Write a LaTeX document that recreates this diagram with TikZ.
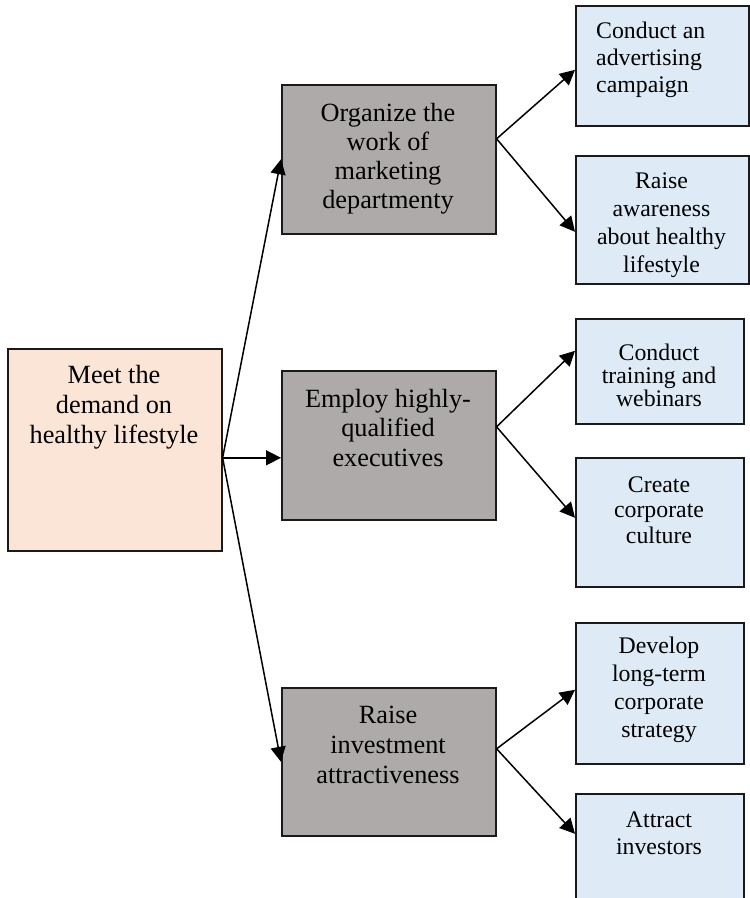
\documentclass[tikz,border=0pt]{standalone}
\usepackage{fontspec}
\setmainfont{Liberation Serif}
\usetikzlibrary{arrows.meta,calc}

\definecolor{goalfill}{HTML}{FBE5D6}
\definecolor{taskfill}{HTML}{AEAAAA}
\definecolor{stepfill}{HTML}{DEEBF7}
\definecolor{edgeink}{HTML}{1A1A1A}

% text block whose base anchor sits on the first line's baseline
\newcommand{\txtblock}[4]{{\fontsize{#1}{#2}\selectfont\begin{tabular}[t]{@{}#3@{}}#4\end{tabular}}}

\begin{document}
\begin{tikzpicture}[x=1pt,y=-1pt,
  boxbase/.style={rectangle,draw=edgeink,line width=1.6pt,inner sep=0pt,anchor=north west},
  goalbox/.style={boxbase,fill=goalfill},
  taskbox/.style={boxbase,fill=taskfill},
  stepbox/.style={boxbase,fill=stepfill},
  lbl/.style={inner sep=0pt,anchor=base},
  link/.style={draw=black,line width=1.5pt,-{Triangle[length=15pt,width=15pt]}}]

\useasboundingbox (0,0) rectangle (750,898);

% goal
\node[goalbox,minimum width=214pt,minimum height=202pt] (L) at (7,348) {};
\node[lbl] (Lt) at (114,383) {\txtblock{26.3}{30}{c}{Meet the\\demand on\\healthy lifestyle}};

% tasks
\node[taskbox,minimum width=214pt,minimum height=149pt] (M1) at (281,84) {};
\node[lbl] (M1t) at (388,121) {\txtblock{26.3}{29.3}{c}{Organize the\\work of\\marketing\\departmenty}};

\node[taskbox,minimum width=214pt,minimum height=149pt] (M2) at (281,370) {};
\node[lbl] (M2t) at (388,407) {\txtblock{26.3}{29.5}{c}{Employ highly-\\qualified\\executives}};

\node[taskbox,minimum width=214pt,minimum height=148pt] (M3) at (281,687) {};
\node[lbl] (M3t) at (388,723) {\txtblock{26.3}{30}{c}{Raise\\investment\\attractiveness}};

% measures
\node[stepbox,minimum width=173pt,minimum height=120pt] (R1) at (575,5) {};
\node[lbl,anchor=base west] (R1t) at (596,38) {\txtblock{23.8}{27}{l}{Conduct an\\advertising\\campaign}};

\node[stepbox,minimum width=173pt,minimum height=128pt] (R2) at (575,155) {};
\node[lbl] (R2t) at (661.5,188) {\txtblock{23.8}{28}{c}{Raise\\awareness\\about healthy\\lifestyle}};

\node[stepbox,minimum width=168pt,minimum height=105pt] (R3) at (575,318) {};
\node[lbl] (R3t) at (659,360) {\txtblock{23.8}{23}{c}{Conduct\\training and\\webinars}};

\node[stepbox,minimum width=168pt,minimum height=129pt] (R4) at (575,457) {};
\node[lbl] (R4t) at (659,492) {\txtblock{23.8}{25.5}{c}{Create\\corporate\\culture}};

\node[stepbox,minimum width=168pt,minimum height=141pt] (R5) at (575,622) {};
\node[lbl] (R5t) at (659,653) {\txtblock{23.8}{28}{c}{Develop\\long-term\\corporate\\strategy}};

\node[stepbox,minimum width=168pt,minimum height=117pt] (R6) at (575,793) {};
\node[lbl] (R6t) at (659,827) {\txtblock{23.8}{27}{c}{Attract\\investors}};

% branching points on the box sides
\coordinate (Lout) at ([yshift=-8pt]L.east);
\coordinate (M1out) at ([yshift=20.5pt]M1.east);
\coordinate (M2out) at ([yshift=18.5pt]M2.east);
\coordinate (M3out) at ([yshift=13pt]M3.east);

% connectors
\draw[link] (Lout) -- (M1.west);
\draw[link] (Lout) -- (M2.west |- Lout);
\draw[link] (Lout) -- (M3.west);

\draw[link] (M1out) -- ([yshift=-4pt]R1.west);
\draw[link] (M1out) -- ([yshift=-12pt]R2.west);

\draw[link] (M2out) -- ([yshift=20.5pt]R3.west);
\draw[link] (M2out) -- ([yshift=4.5pt]R4.west);

\draw[link] (M3out) -- ([yshift=3.5pt]R5.west);
\draw[link] (M3out) -- ([yshift=18.5pt]R6.west);
\end{tikzpicture}
\end{document}
